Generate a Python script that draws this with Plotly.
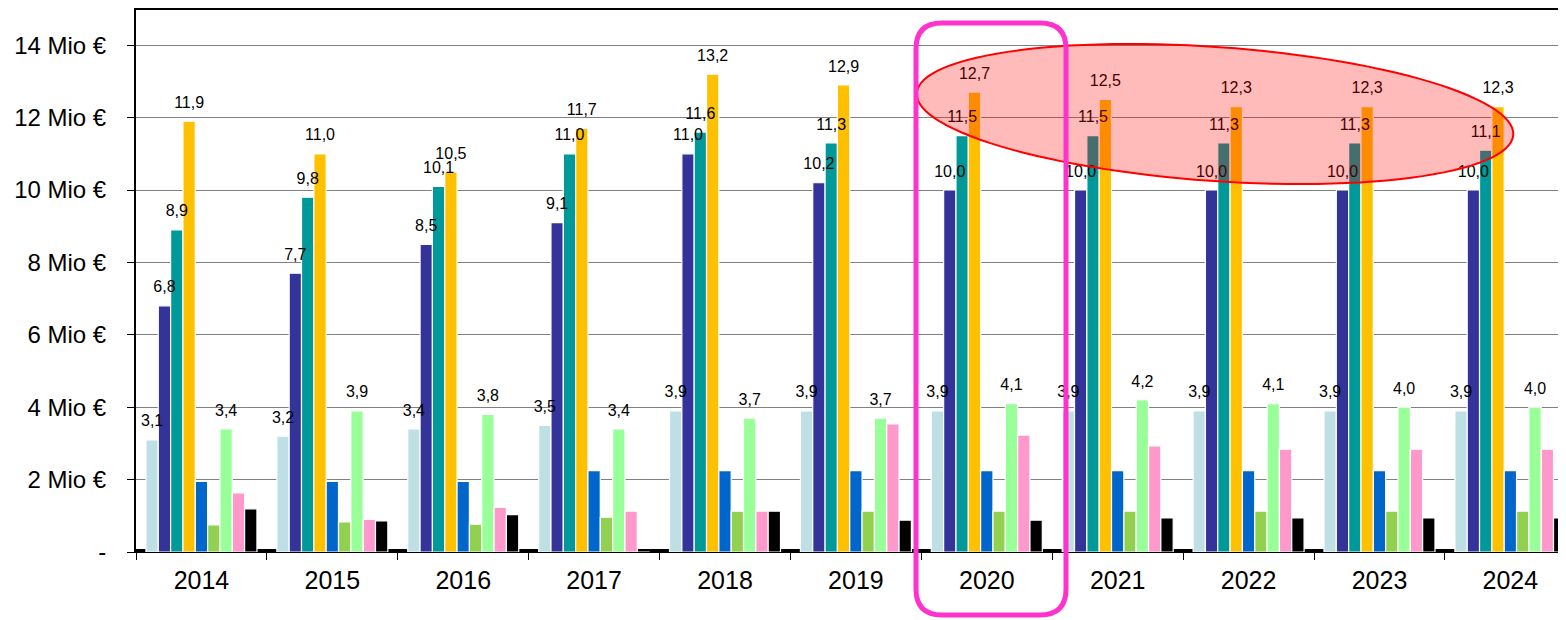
import math
import plotly.graph_objects as go

# chart data (Mio €)
years = ["2014", "2015", "2016", "2017", "2018", "2019", "2020", "2021", "2022", "2023", "2024"]
light_blue = [3.1, 3.2, 3.4, 3.5, 3.9, 3.9, 3.9, 3.9, 3.9, 3.9, 3.9]
indigo = [6.8, 7.7, 8.5, 9.1, 11.0, 10.2, 10.0, 10.0, 10.0, 10.0, 10.0]
teal = [8.9, 9.8, 10.1, 11.0, 11.6, 11.3, 11.5, 11.5, 11.3, 11.3, 11.1]
orange = [11.9, 11.0, 10.5, 11.7, 13.2, 12.9, 12.7, 12.5, 12.3, 12.3, 12.3]
blue = [1.95, 1.95, 1.95, 2.25, 2.25, 2.25, 2.25, 2.25, 2.25, 2.25, 2.25]
yellow_green = [0.75, 0.83, 0.77, 0.96, 1.13, 1.13, 1.13, 1.13, 1.13, 1.13, 1.13]
pale_green = [3.4, 3.9, 3.8, 3.4, 3.7, 3.7, 4.1, 4.2, 4.1, 4.0, 4.0]
pink = [1.63, 0.90, 1.23, 1.13, 1.13, 3.54, 3.23, 2.93, 2.84, 2.84, 2.84]
black = [1.19, 0.86, 1.03, 0.0, 1.13, 0.88, 0.88, 0.94, 0.94, 0.94, 0.94]

y_tick_vals = [0, 2, 4, 6, 8, 10, 12, 14]
y_tick_text = ["-", "2 Mio €", "4 Mio €", "6 Mio €", "8 Mio €", "10 Mio €", "12 Mio €", "14 Mio €"]

series = [
    (light_blue, "#BEE0E4", True),
    (indigo, "#333399", True),
    (teal, "#009999", True),
    (orange, "#FFC000", True),
    (blue, "#0066CC", False),
    (yellow_green, "#92D050", False),
    (pale_green, "#99FF99", True),
    (pink, "#FF99CC", False),
    (black, "#000000", False),
]

# the page body has an 8px margin, so the figure is a bit smaller than the window
PAGE_OFF = 8
W, H = 1558, 612
ML, MR, MT, MB = 128, 0, 1, 68
FONT = "Arial, Liberation Sans, sans-serif"
BARGAP = 0.152
x_idx = list(range(len(years)))

fig = go.Figure()
for vals, col, _ in series:
    fig.add_trace(go.Bar(x=x_idx, y=vals, marker=dict(color=col, line=dict(color="white", width=1.2)),
                         hoverinfo="skip", showlegend=False))

# value labels, placed above the matching bar slot
slot = (1 - BARGAP) / len(series)
label_pad = 0.48
for k, (vals, col, labelled) in enumerate(series):
    if not labelled:
        continue
    xs = [i + (k - (len(series) - 1) / 2) * slot for i in x_idx]
    fig.add_trace(go.Scatter(
        x=xs, y=[v + label_pad for v in vals], mode="text",
        text=[f"{v:.1f}".replace(".", ",") for v in vals],
        textposition="middle center", textfont=dict(family=FONT, size=16, color="black"),
        cliponaxis=False, hoverinfo="skip", showlegend=False))

pw, ph = W - ML - MR, H - MT - MB
left_px, bottom_px = ML + PAGE_OFF, H - MB + PAGE_OFF


def to_paper(px, py):
    # page pixel -> paper coords
    return (px - left_px) / pw, (bottom_px - py) / ph


# tilted red ellipse
cx, cy, a, b = 1215, 114, 299, 67
th = math.atan2(21, 298)
pts = []
for j in range(121):
    t = 2 * math.pi * j / 120
    px = cx + a * math.cos(t) * math.cos(th) - b * math.sin(t) * math.sin(th)
    py = cy + a * math.cos(t) * math.sin(th) + b * math.sin(t) * math.cos(th)
    pts.append(to_paper(px, py))
ell_path = "M " + " L ".join(f"{x:.5f},{y:.5f}" for x, y in pts) + " Z"

# magenta rounded rectangle
x0, x1, y0, y1, r = 916, 1066, 23, 615, 26


def p(px, py):
    x, y = to_paper(px, py)
    return f"{x:.5f},{y:.5f}"


rr_path = (f"M {p(x0 + r, y0)} L {p(x1 - r, y0)} Q {p(x1, y0)} {p(x1, y0 + r)} "
           f"L {p(x1, y1 - r)} Q {p(x1, y1)} {p(x1 - r, y1)} L {p(x0 + r, y1)} "
           f"Q {p(x0, y1)} {p(x0, y1 - r)} L {p(x0, y0 + r)} Q {p(x0, y0)} {p(x0 + r, y0)} Z")

shapes = [
    # thick baseline showing between bar groups
    dict(type="rect", xref="paper", yref="y", x0=0, x1=1, y0=0, y1=3, ysizemode="pixel", yanchor=0,
         fillcolor="black", line=dict(width=0), layer="between"),
    dict(type="line", xref="paper", yref="paper", x0=0, x1=1, y0=1, y1=1, line=dict(color="black", width=2)),
    dict(type="path", xref="paper", yref="paper", path=ell_path,
         fillcolor="rgba(255,0,0,0.27)", line=dict(color="red", width=2)),
    dict(type="path", xref="paper", yref="paper", path=rr_path,
         line=dict(color="#FF33CC", width=5)),
]

fig.update_layout(
    width=W, height=H, margin=dict(l=ML, r=MR, t=MT, b=MB),
    paper_bgcolor="white", plot_bgcolor="white",
    barmode="group", bargap=BARGAP, bargroupgap=0,
    font=dict(family=FONT, color="black"),
    shapes=shapes,
    xaxis=dict(range=[-0.5, 10.425], tickmode="array", tickvals=x_idx, ticktext=years,
               ticks="", showgrid=False, zeroline=False, automargin=False,
               showline=True, linecolor="black", linewidth=1, mirror=True,
               tickfont=dict(size=25, family=FONT), ticklabelstandoff=6,
               minor=dict(tickmode="linear", tick0=0.5, dtick=1, ticks="outside", ticklen=7,
                          tickcolor="black", showgrid=False)),
    yaxis=dict(range=[0, 15], tickmode="array", tickvals=y_tick_vals, ticktext=y_tick_text,
               ticks="outside", ticklen=7, tickcolor="black", automargin=False,
               showgrid=True, gridcolor="#808080", gridwidth=1, zeroline=False,
               showline=True, linecolor="black", linewidth=2,
               tickfont=dict(size=24, family=FONT), ticklabelstandoff=16),
)

fig.write_html("out.html")
